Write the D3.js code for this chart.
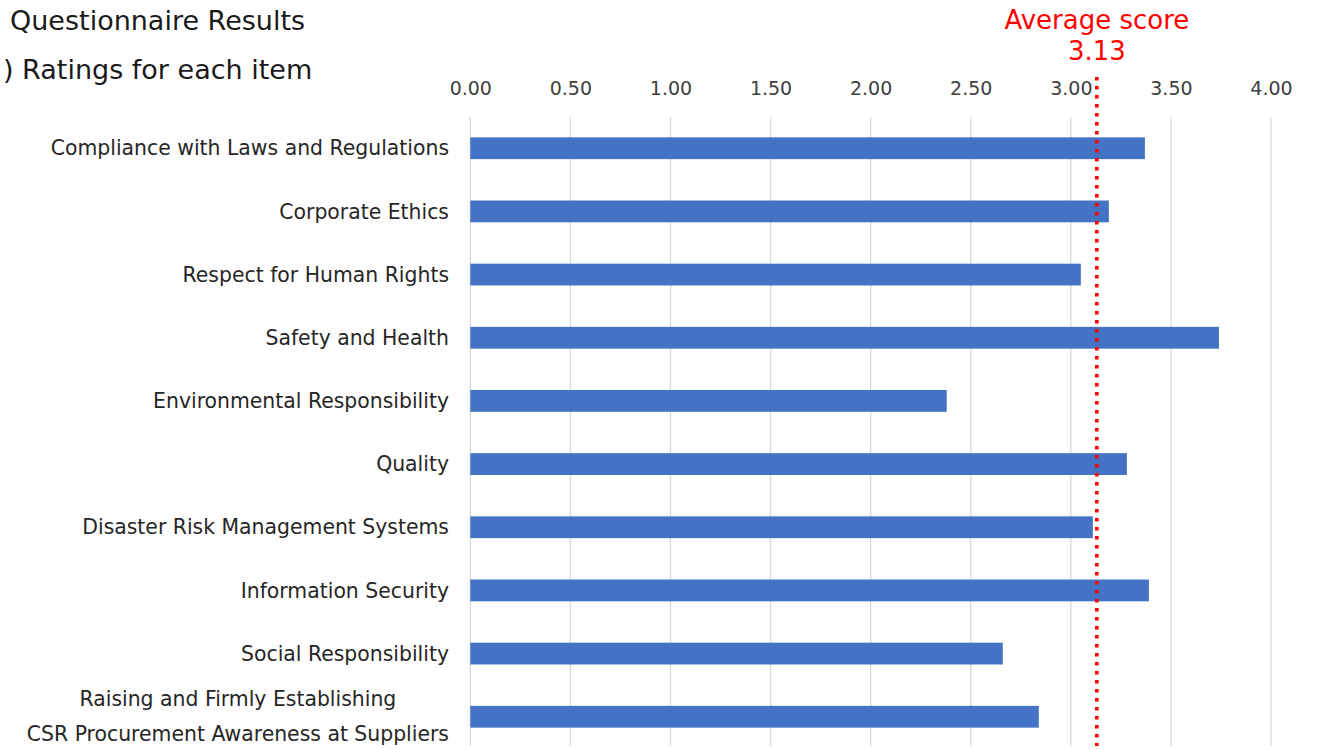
<!DOCTYPE html>
<html><head><meta charset="utf-8">
<script src="https://cdn.jsdelivr.net/npm/d3@7"></script>
<style>body{margin:0;background:#fff}svg{display:block}</style>
</head><body>
<svg id="c" width="1323" height="750"></svg>
<script>
const categories = [
  "Compliance with Laws and Regulations",
  "Corporate Ethics",
  "Respect for Human Rights",
  "Safety and Health",
  "Environmental Responsibility",
  "Quality",
  "Disaster Risk Management Systems",
  "Information Security",
  "Social Responsibility",
  "Raising and Firmly Establishing\nCSR Procurement Awareness at Suppliers"
];
const scores = [3.37, 3.19, 3.05, 3.74, 2.38, 3.28, 3.11, 3.39, 2.66, 2.84];
const tickValues = [0, 0.5, 1, 1.5, 2, 2.5, 3, 3.5, 4];
const averageScore = 3.13;
const titleLines = ["Questionnaire Results", ") Ratings for each item"];
const avgLabel = ["Average score", "3.13"];

const svg = d3.select("#c");
const font = "'DejaVu Sans', Verdana, sans-serif";
const x = d3.scaleLinear().domain([0, 4]).range([470.3, 1271]);
const y = d3.scaleBand().domain(categories).range([116.5, 748.5]).paddingInner(0.655).paddingOuter(0.33);

// gridlines
svg.append("g").selectAll("line").data(tickValues).join("line")
  .attr("x1", d => x(d)).attr("x2", d => x(d))
  .attr("y1", 117).attr("y2", 746)
  .attr("stroke", "#d9d9d9").attr("stroke-width", 1.3);

// top axis labels
const ax = svg.append("g").attr("transform", "translate(0,95)")
  .call(d3.axisTop(x).tickValues(tickValues).tickFormat(d3.format(".2f")).tickSize(0).tickPadding(0));
ax.select(".domain").remove();
ax.selectAll("text").attr("font-family", font).attr("font-size", 19).attr("fill", "#404040");

// bars
svg.append("g").selectAll("rect").data(categories).join("rect")
  .attr("x", x(0)).attr("y", d => y(d))
  .attr("width", (d, i) => x(scores[i]) - x(0))
  .attr("height", y.bandwidth())
  .attr("fill", "#4472c4");

// category labels
const lab = svg.append("g");
const fs = 20.4;
categories.forEach(c => {
  const lines = c.split("\n");
  const cy = y(c) + y.bandwidth() / 2;
  const lh = 35;
  if (lines.length === 1) {
    lab.append("text").attr("x", 449).attr("y", cy).attr("dy", "0.35em")
      .attr("text-anchor", "end").attr("font-family", font).attr("font-size", fs)
      .attr("fill", "#262626").text(c);
  } else {
    const t = lab.append("text").attr("font-family", font).attr("font-size", fs).attr("fill", "#262626");
    lines.forEach((l, k) => {
      t.append("tspan").attr("x", 0).attr("y", cy + (k - (lines.length - 1) / 2) * lh).attr("dy", "0.35em")
        .attr("text-anchor", "middle").text(l);
    });
    const bb = t.node().getBBox();
    t.selectAll("tspan").attr("x", 449 - bb.width / 2);
  }
});

// average line
svg.append("line")
  .attr("x1", x(averageScore)).attr("x2", x(averageScore))
  .attr("y1", 77).attr("y2", 746)
  .attr("stroke", "#ff0000").attr("stroke-width", 3.6)
  .attr("stroke-dasharray", "3.6 5.4");

svg.append("text").attr("x", x(averageScore)).attr("y", 29).attr("text-anchor", "middle")
  .attr("font-family", font).attr("font-size", 26).attr("fill", "#ff0000").text(avgLabel[0]);
svg.append("text").attr("x", x(averageScore)).attr("y", 60).attr("text-anchor", "middle")
  .attr("font-family", font).attr("font-size", 26).attr("fill", "#ff0000").text(avgLabel[1]);

// titles
svg.append("text").attr("x", 10).attr("y", 30).attr("font-family", font).attr("font-size", 27)
  .attr("fill", "#1a1a1a").text(titleLines[0]);
svg.append("text").attr("x", 3).attr("y", 79).attr("font-family", font).attr("font-size", 27)
  .attr("fill", "#1a1a1a").text(titleLines[1]);
</script>
</body></html>
